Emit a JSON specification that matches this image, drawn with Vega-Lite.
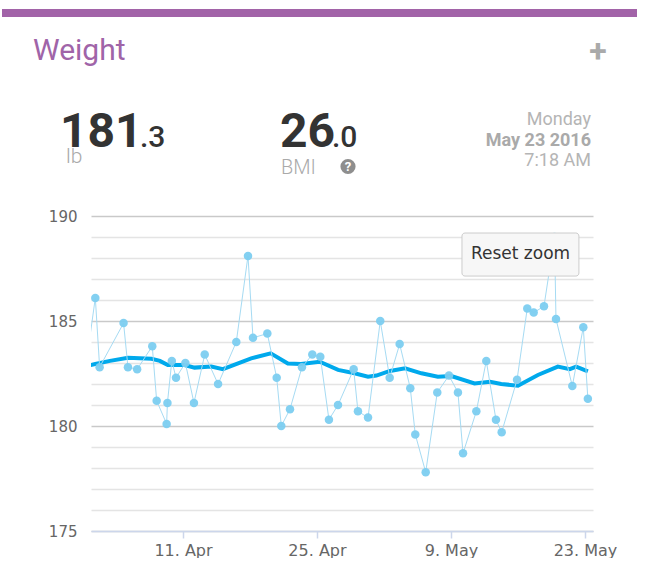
{
  "$schema": "https://vega.github.io/schema/vega-lite/v6.json",
  "background": "white",
  "padding": {"left": 2, "top": 9, "right": 0, "bottom": 0},
  "spacing": 0,
  "config": {
    "view": {"stroke": null},
    "font": "Roboto",
    "axisX": {
      "grid": false, "domainColor": "#ccd6eb", "domainWidth": 1.5,
      "tickColor": "#ccd6eb", "tickSize": 7, "tickWidth": 1.5,
      "labelColor": "#666666", "labelFont": "DejaVu Sans", "labelFontSize": 16, "labelPadding": 4
    },
    "axisY": {
      "domain": false, "ticks": false,
      "gridColor": {"expr": "datum.value % 5 == 0 ? '#c9c9c9' : '#e4e4e4'"},
      "gridWidth": 1.6,
      "labelColor": "#666666", "labelFont": "DejaVu Sans", "labelFontSize": 15, "labelPadding": 14,
      "minExtent": 89
    }
  },
  "resolve": {"scale": {"x": "independent", "y": "independent"}},
  "datasets": {
    "obs": [
      {"t": "2016-03-31T20:00:00Z", "w": 182.8},
      {"t": "2016-04-01T20:10:00Z", "w": 186.1},
      {"t": "2016-04-02T07:00:00Z", "w": 182.8},
      {"t": "2016-04-04T19:00:00Z", "w": 184.9},
      {"t": "2016-04-05T06:00:00Z", "w": 182.8},
      {"t": "2016-04-06T05:00:00Z", "w": 182.7},
      {"t": "2016-04-07T19:00:00Z", "w": 183.8},
      {"t": "2016-04-08T06:00:00Z", "w": 181.2},
      {"t": "2016-04-09T07:00:00Z", "w": 180.1},
      {"t": "2016-04-09T09:00:00Z", "w": 181.1},
      {"t": "2016-04-09T20:00:00Z", "w": 183.1},
      {"t": "2016-04-10T06:30:00Z", "w": 182.3},
      {"t": "2016-04-11T06:00:00Z", "w": 183.0},
      {"t": "2016-04-12T03:30:00Z", "w": 181.1},
      {"t": "2016-04-13T06:30:00Z", "w": 183.4},
      {"t": "2016-04-14T16:00:00Z", "w": 182.0},
      {"t": "2016-04-16T13:40:00Z", "w": 184.0},
      {"t": "2016-04-17T19:00:00Z", "w": 188.1},
      {"t": "2016-04-18T07:30:00Z", "w": 184.2},
      {"t": "2016-04-19T19:30:00Z", "w": 184.4},
      {"t": "2016-04-20T19:00:00Z", "w": 182.3},
      {"t": "2016-04-21T06:30:00Z", "w": 180.0},
      {"t": "2016-04-22T04:20:00Z", "w": 180.8},
      {"t": "2016-04-23T10:20:00Z", "w": 182.8},
      {"t": "2016-04-24T12:15:00Z", "w": 183.4},
      {"t": "2016-04-25T08:20:00Z", "w": 183.3},
      {"t": "2016-04-26T06:00:00Z", "w": 180.3},
      {"t": "2016-04-27T04:45:00Z", "w": 181.0},
      {"t": "2016-04-28T20:00:00Z", "w": 182.7},
      {"t": "2016-04-29T06:45:00Z", "w": 180.7},
      {"t": "2016-04-30T08:00:00Z", "w": 180.4},
      {"t": "2016-05-01T14:40:00Z", "w": 185.0},
      {"t": "2016-05-02T14:20:00Z", "w": 182.3},
      {"t": "2016-05-03T15:20:00Z", "w": 183.9},
      {"t": "2016-05-04T18:00:00Z", "w": 181.8},
      {"t": "2016-05-05T06:30:00Z", "w": 179.6},
      {"t": "2016-05-06T08:40:00Z", "w": 177.8},
      {"t": "2016-05-07T13:40:00Z", "w": 181.6},
      {"t": "2016-05-08T19:00:00Z", "w": 182.4},
      {"t": "2016-05-09T17:30:00Z", "w": 181.6},
      {"t": "2016-05-10T06:15:00Z", "w": 178.7},
      {"t": "2016-05-11T15:40:00Z", "w": 180.7},
      {"t": "2016-05-12T16:35:00Z", "w": 183.1},
      {"t": "2016-05-13T16:50:00Z", "w": 180.3},
      {"t": "2016-05-14T07:10:00Z", "w": 179.7},
      {"t": "2016-05-15T21:40:00Z", "w": 182.2},
      {"t": "2016-05-16T23:20:00Z", "w": 185.6},
      {"t": "2016-05-17T15:25:00Z", "w": 185.4},
      {"t": "2016-05-18T17:15:00Z", "w": 185.7},
      {"t": "2016-05-19T19:40:00Z", "w": 189.0},
      {"t": "2016-05-19T23:20:00Z", "w": 185.1},
      {"t": "2016-05-21T16:20:00Z", "w": 181.9},
      {"t": "2016-05-22T19:50:00Z", "w": 184.7},
      {"t": "2016-05-23T07:18:00Z", "w": 181.3}
    ],
    "trend": [
      {"t": "2016-03-31T20:00:00Z", "w": 182.85},
      {"t": "2016-04-01T20:00:00Z", "w": 182.95},
      {"t": "2016-04-03T09:00:00Z", "w": 183.1},
      {"t": "2016-04-05T06:00:00Z", "w": 183.25},
      {"t": "2016-04-07T17:00:00Z", "w": 183.2},
      {"t": "2016-04-08T14:00:00Z", "w": 183.1},
      {"t": "2016-04-09T10:00:00Z", "w": 182.9},
      {"t": "2016-04-11T04:00:00Z", "w": 182.9},
      {"t": "2016-04-12T05:00:00Z", "w": 182.78},
      {"t": "2016-04-13T23:00:00Z", "w": 182.83},
      {"t": "2016-04-15T04:00:00Z", "w": 182.71},
      {"t": "2016-04-18T03:00:00Z", "w": 183.22},
      {"t": "2016-04-20T04:00:00Z", "w": 183.46},
      {"t": "2016-04-21T23:00:00Z", "w": 182.98},
      {"t": "2016-04-23T08:00:00Z", "w": 182.95},
      {"t": "2016-04-25T07:00:00Z", "w": 183.06},
      {"t": "2016-04-27T05:00:00Z", "w": 182.67},
      {"t": "2016-04-28T22:00:00Z", "w": 182.51},
      {"t": "2016-04-30T08:00:00Z", "w": 182.35},
      {"t": "2016-05-01T05:00:00Z", "w": 182.4},
      {"t": "2016-05-02T15:00:00Z", "w": 182.62},
      {"t": "2016-05-04T05:00:00Z", "w": 182.75},
      {"t": "2016-05-05T22:00:00Z", "w": 182.51},
      {"t": "2016-05-07T15:00:00Z", "w": 182.35},
      {"t": "2016-05-09T01:00:00Z", "w": 182.38},
      {"t": "2016-05-11T11:00:00Z", "w": 182.03},
      {"t": "2016-05-13T02:00:00Z", "w": 182.11},
      {"t": "2016-05-14T06:00:00Z", "w": 182.0},
      {"t": "2016-05-16T00:00:00Z", "w": 181.92},
      {"t": "2016-05-18T02:00:00Z", "w": 182.43},
      {"t": "2016-05-20T04:00:00Z", "w": 182.83},
      {"t": "2016-05-21T10:00:00Z", "w": 182.71},
      {"t": "2016-05-22T02:00:00Z", "w": 182.83},
      {"t": "2016-05-23T07:18:00Z", "w": 182.6}
    ],
    "header": [
      {"col": "weight", "part": "title", "label": "Weight"},
      {"col": "date", "part": "plus", "label": "+"},
      {"col": "weight", "part": "wint", "label": "181"},
      {"col": "weight", "part": "wdec", "label": ".3"},
      {"col": "weight", "part": "wunit", "label": "lb"},
      {"col": "bmi", "part": "bint", "label": "26"},
      {"col": "bmi", "part": "bdec", "label": ".0"},
      {"col": "bmi", "part": "bunit", "label": "BMI"},
      {"col": "bmi", "part": "help", "label": "?"},
      {"col": "date", "part": "day", "label": "Monday"},
      {"col": "date", "part": "date", "label": "May 23 2016"},
      {"col": "date", "part": "time", "label": "7:18 AM"}
    ]
  },
  "vconcat": [
    {
      "width": 546,
      "height": 8,
      "data": {"values": [{"band": "top"}]},
      "mark": {"type": "rect", "color": "#a263a8"},
      "encoding": {
        "x": {"datum": 0, "type": "quantitative", "scale": {"domain": [0, 1], "range": [-89, 546]}, "axis": null},
        "x2": {"datum": 1}
      }
    },
    {
      "width": 546,
      "height": 192,
      "data": {"name": "header"},
      "encoding": {
        "x": {"field": "col", "type": "nominal", "scale": {"type": "point", "domain": ["weight", "bmi", "date"], "padding": 0, "range": [-89, 546]}, "axis": null},
        "text": {"field": "label"}
      },
      "layer": [
        {"transform": [{"filter": "datum.part == 'title'"}], "mark": {"type": "text", "align": "left", "baseline": "alphabetic", "dx": 31, "dy": -53.5, "fontSize": 30, "color": "#a064a8", "font": "Roboto"}},
        {"transform": [{"filter": "datum.part == 'plus'"}], "mark": {"type": "text", "align": "center", "baseline": "alphabetic", "dx": -39, "dy": -51, "fontSize": 32, "fontWeight": "bold", "color": "#aaaaaa", "font": "Roboto"}},
        {"transform": [{"filter": "datum.part == 'wint'"}], "mark": {"type": "text", "align": "left", "baseline": "alphabetic", "dx": 58, "dy": 33.5, "fontSize": 48, "fontWeight": "bold", "color": "#333333", "font": "Roboto"}},
        {"transform": [{"filter": "datum.part == 'wdec'"}], "mark": {"type": "text", "align": "left", "baseline": "alphabetic", "dx": 138, "dy": 33.5, "fontSize": 30, "fontWeight": 500, "color": "#333333", "font": "Roboto"}},
        {"transform": [{"filter": "datum.part == 'wunit'"}], "mark": {"type": "text", "align": "left", "baseline": "alphabetic", "dx": 64, "dy": 49.5, "fontSize": 21, "fontWeight": 300, "color": "#aaaaaa", "font": "Roboto"}},
        {"transform": [{"filter": "datum.part == 'bint'"}], "mark": {"type": "text", "align": "left", "baseline": "alphabetic", "dx": -39.5, "dy": 33.5, "fontSize": 48, "fontWeight": "bold", "color": "#333333", "font": "Roboto"}},
        {"transform": [{"filter": "datum.part == 'bdec'"}], "mark": {"type": "text", "align": "left", "baseline": "alphabetic", "dx": 12.5, "dy": 33.5, "fontSize": 30, "fontWeight": 500, "color": "#333333", "font": "Roboto"}},
        {"transform": [{"filter": "datum.part == 'bunit'"}], "mark": {"type": "text", "align": "left", "baseline": "alphabetic", "dx": -38.5, "dy": 60.5, "fontSize": 20, "fontWeight": 300, "color": "#aaaaaa", "font": "Roboto"}},
        {"transform": [{"filter": "datum.part == 'help'"}], "mark": {"type": "circle", "xOffset": 28.5, "yOffset": 53.5, "size": 230, "color": "#8e8e8e", "opacity": 1}},
        {"transform": [{"filter": "datum.part == 'help'"}], "mark": {"type": "text", "align": "center", "baseline": "middle", "dx": 28.5, "dy": 54, "fontSize": 13, "fontWeight": "bold", "color": "#ffffff", "font": "Roboto"}},
        {"transform": [{"filter": "datum.part == 'day'"}], "mark": {"type": "text", "align": "right", "baseline": "alphabetic", "dx": -46, "dy": 11.5, "fontSize": 18, "color": "#b5b5b5", "font": "Roboto"}},
        {"transform": [{"filter": "datum.part == 'date'"}], "mark": {"type": "text", "align": "right", "baseline": "alphabetic", "dx": -46, "dy": 32.5, "fontSize": 18, "fontWeight": "bold", "color": "#aaaaaa", "font": "Roboto"}},
        {"transform": [{"filter": "datum.part == 'time'"}], "mark": {"type": "text", "align": "right", "baseline": "alphabetic", "dx": -46, "dy": 52.5, "fontSize": 18, "color": "#b5b5b5", "font": "Roboto"}}
      ]
    },
    {
      "width": 502,
      "height": 315,
      "layer": [
        {
          "encoding": {
            "x": {
              "field": "t", "type": "temporal", "title": null,
              "scale": {"type": "utc", "domain": [1459502400000, 1464034200000]},
              "axis": {"values": [1460332800000, 1461542400000, 1462752000000, 1463961600000], "format": "%-d. %b"}
            },
            "y": {
              "field": "w", "type": "quantitative", "title": null,
              "scale": {"domain": [175, 190], "nice": false, "zero": false},
              "axis": {"values": [175, 176, 177, 178, 179, 180, 181, 182, 183, 184, 185, 186, 187, 188, 189, 190], "labelExpr": "datum.value % 5 == 0 ? datum.label : ''"}
            }
          },
          "layer": [
            {"data": {"name": "trend"}, "mark": {"type": "line", "color": "#00a9ec", "strokeWidth": 4, "clip": true}},
            {"data": {"name": "obs"}, "mark": {"type": "line", "color": "#a6dbf3", "strokeWidth": 1, "clip": true}},
            {"data": {"name": "obs"}, "mark": {"type": "circle", "color": "#7ccdf0", "size": 72, "opacity": 0.95, "clip": true}}
          ]
        },
        {
          "data": {"values": [{"button": "Reset zoom"}]},
          "mark": {"type": "rect", "fill": "#f7f7f7", "stroke": "#cccccc", "strokeWidth": 1, "cornerRadius": 3},
          "encoding": {
            "x": {
              "datum": 1462851360000, "type": "temporal", "title": null,
              "scale": {"type": "utc", "domain": [1459502400000, 1464034200000]},
              "axis": {"values": [1460332800000, 1461542400000, 1462752000000, 1463961600000], "format": "%-d. %b"}
            },
            "x2": {"datum": 1463907000000},
            "y": {
              "datum": 189.19, "type": "quantitative", "title": null,
              "scale": {"domain": [175, 190], "nice": false, "zero": false},
              "axis": {"values": [175, 176, 177, 178, 179, 180, 181, 182, 183, 184, 185, 186, 187, 188, 189, 190], "labelExpr": "datum.value % 5 == 0 ? datum.label : ''"}
            },
            "y2": {"datum": 187.14}
          }
        },
        {
          "data": {"values": [{"button": "Reset zoom"}]},
          "mark": {"type": "text", "font": "DejaVu Sans", "fontSize": 17, "color": "#333333", "align": "center", "baseline": "middle"},
          "encoding": {
            "x": {
              "datum": 1463380200000, "type": "temporal", "title": null,
              "scale": {"type": "utc", "domain": [1459502400000, 1464034200000]},
              "axis": {"values": [1460332800000, 1461542400000, 1462752000000, 1463961600000], "format": "%-d. %b"}
            },
            "y": {
              "datum": 188.17, "type": "quantitative", "title": null,
              "scale": {"domain": [175, 190], "nice": false, "zero": false},
              "axis": {"values": [175, 176, 177, 178, 179, 180, 181, 182, 183, 184, 185, 186, 187, 188, 189, 190], "labelExpr": "datum.value % 5 == 0 ? datum.label : ''"}
            },
            "text": {"field": "button"}
          }
        }
      ]
    }
  ]
}
